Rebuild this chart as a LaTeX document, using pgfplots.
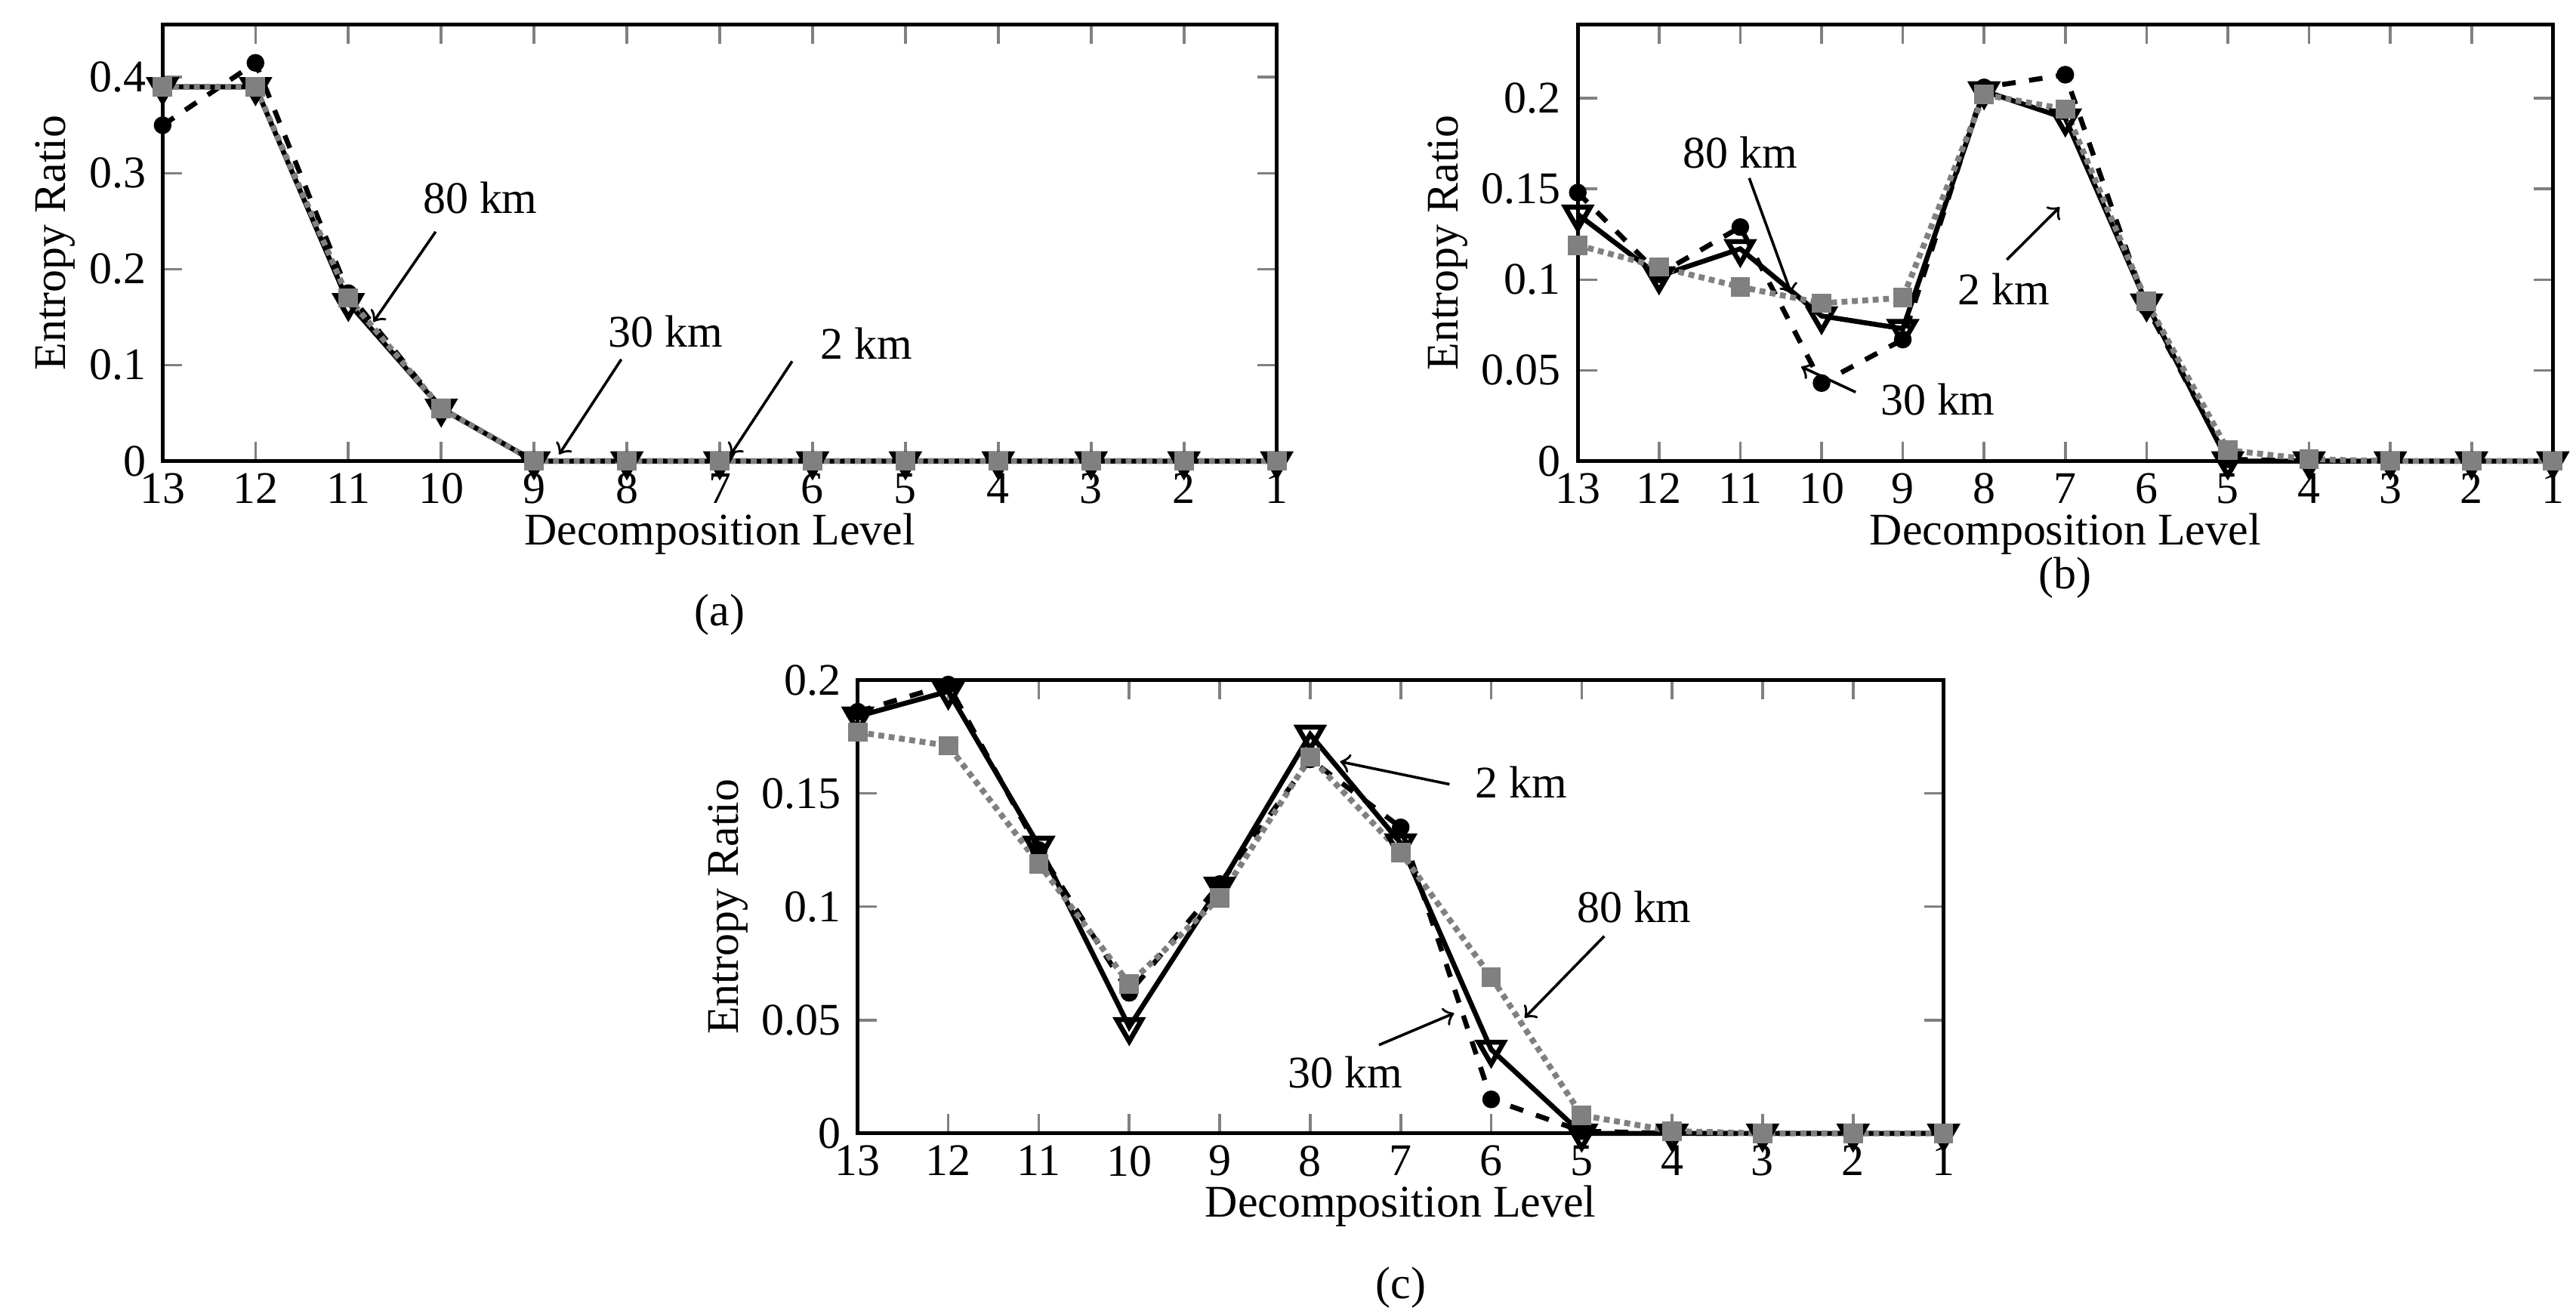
\documentclass[border=0pt]{standalone}
\usepackage{pgfplots}
\pgfplotsset{compat=1.18}
\usepackage{fontspec}
\setmainfont{Liberation Serif}
\begin{document}
\begin{tikzpicture}
\useasboundingbox (0,0) rectangle (20,-10.2);
\pgfplotsset{
  every axis/.style={
    scale only axis, x dir=reverse, xmin=1, xmax=13, xtick={1,...,13},
    tick align=inside, font=\fontsize{10}{11}\selectfont,
    /pgf/number format/assume math mode=true,
    /pgf/number format/fixed, /pgf/number format/precision=2,
    xlabel={Decomposition Level}, ylabel={Entropy Ratio},
    xlabel style={yshift=5pt}, ylabel style={yshift=-4pt},
    line width=0.8pt, tick style={line width=0.6pt},
    x tick label style={yshift=1pt},
    clip=false,
  },
  two/.style={black, solid, line width=1.1pt, mark=triangle, mark size=3.2pt, mark options={rotate=180,solid,fill=white}},
  thirty/.style={black, dashed, line width=1.1pt, mark=*, mark size=1.4pt, mark options={solid}},
  eighty/.style={gray, densely dotted, line width=1.3pt, mark=square*, mark size=1.5pt, mark options={solid}},
}
% (a)
\begin{axis}[at={(1.263cm,-0.19cm)}, anchor=north west, width=8.65cm, height=3.39cm,
  ymin=0, ymax=0.455, ytick={0,0.1,0.2,0.3,0.4}]
\addplot[two] coordinates {(13,0.39)(12,0.39)(11,0.165)(10,0.055)(9,0)(8,0)(7,0)(6,0)(5,0)(4,0)(3,0)(2,0)(1,0)};
\addplot[thirty] coordinates {(13,0.35)(12,0.415)(11,0.175)(10,0.055)(9,0)(8,0)(7,0)(6,0)(5,0)(4,0)(3,0)(2,0)(1,0)};
\addplot[eighty] coordinates {(13,0.39)(12,0.39)(11,0.17)(10,0.055)(9,0)(8,0)(7,0)(6,0)(5,0)(4,0)(3,0)(2,0)(1,0)};
\node at (axis cs:9.58,0.274) {80 km};
\draw[->,line width=0.6pt] (axis cs:10.06,0.239) -- (axis cs:10.73,0.145);
\node at (axis cs:7.58,0.135) {30 km};
\draw[->,line width=0.6pt] (axis cs:8.06,0.106) -- (axis cs:8.73,0.007);
\node at (axis cs:5.42,0.123) {2 km};
\draw[->,line width=0.6pt] (axis cs:6.22,0.104) -- (axis cs:6.88,0.007);
\node at (axis cs:7,-0.16) {(a)};
\end{axis}
% (b)
\begin{axis}[at={(12.25cm,-0.19cm)}, anchor=north west, width=7.57cm, height=3.39cm,
  ymin=0, ymax=0.2407, ytick={0,0.05,0.1,0.15,0.2}]
\addplot[two] coordinates {(13,0.136)(12,0.102)(11,0.117)(10,0.080)(9,0.073)(8,0.204)(7,0.189)(6,0.087)(5,0)(4,0)(3,0)(2,0)(1,0)};
\addplot[thirty] coordinates {(13,0.148)(12,0.103)(11,0.129)(10,0.043)(9,0.067)(8,0.206)(7,0.213)(6,0.085)(5,0.001)(4,0)(3,0)(2,0)(1,0)};
\addplot[eighty] coordinates {(13,0.119)(12,0.107)(11,0.096)(10,0.087)(9,0.090)(8,0.202)(7,0.194)(6,0.088)(5,0.006)(4,0.001)(3,0)(2,0)(1,0)};
\node at (axis cs:11.0,0.170) {80 km};
\draw[->,line width=0.6pt] (axis cs:10.89,0.156) -- (axis cs:10.37,0.092);
\node at (axis cs:8.57,0.034) {30 km};
\draw[->,line width=0.6pt] (axis cs:9.58,0.038) -- (axis cs:10.25,0.052);
\node at (axis cs:7.76,0.095) {2 km};
\draw[->,line width=0.6pt] (axis cs:7.72,0.111) -- (axis cs:7.07,0.140);
\node at (axis cs:7,-0.0645) {(b)};
\end{axis}
% (c)
\begin{axis}[at={(6.66cm,-5.28cm)}, anchor=north west, width=8.43cm, height=3.52cm,
  ymin=0, ymax=0.2, ytick={0,0.05,0.1,0.15,0.2}]
\addplot[two] coordinates {(13,0.184)(12,0.195)(11,0.127)(10,0.047)(9,0.109)(8,0.176)(7,0.128)(6,0.037)(5,0)(4,0)(3,0)(2,0)(1,0)};
\addplot[thirty] coordinates {(13,0.186)(12,0.198)(11,0.125)(10,0.062)(9,0.110)(8,0.165)(7,0.135)(6,0.015)(5,0.001)(4,0)(3,0)(2,0)(1,0)};
\addplot[eighty] coordinates {(13,0.177)(12,0.171)(11,0.119)(10,0.066)(9,0.104)(8,0.166)(7,0.124)(6,0.069)(5,0.008)(4,0.001)(3,0)(2,0)(1,0)};
\node at (axis cs:5.67,0.155) {2 km};
\draw[->,line width=0.6pt] (axis cs:6.46,0.154) -- (axis cs:7.67,0.164);
\node at (axis cs:4.42,0.100) {80 km};
\draw[->,line width=0.6pt] (axis cs:4.75,0.087) -- (axis cs:5.63,0.051);
\node at (axis cs:7.61,0.027) {30 km};
\draw[->,line width=0.6pt] (axis cs:7.24,0.039) -- (axis cs:6.41,0.053);
\node at (axis cs:7,-0.068) {(c)};
\end{axis}
\end{tikzpicture}
\end{document}
